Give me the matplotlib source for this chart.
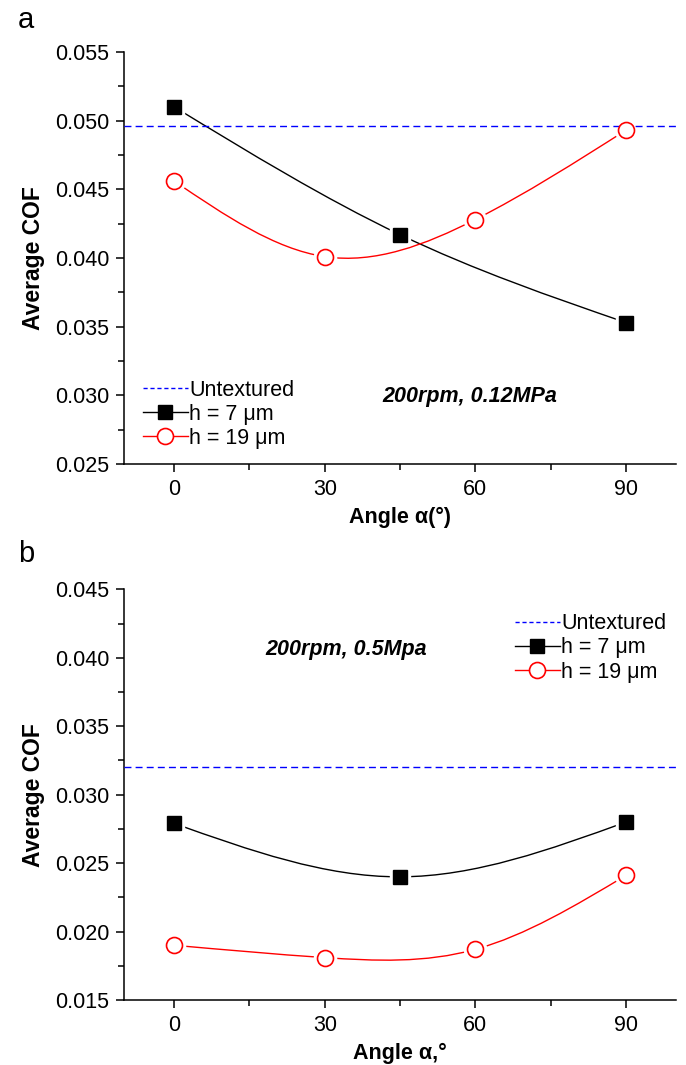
"""
Average COF vs texture angle for two texture depths, two load cases (a, b).
"""

import numpy as np
import matplotlib
matplotlib.use('Agg')
import matplotlib.pyplot as plt
from matplotlib.path import Path
from matplotlib.patches import PathPatch
from matplotlib.lines import Line2D
from matplotlib.ticker import MultipleLocator

plt.rcParams['font.family'] = ['Liberation Sans', 'DejaVu Sans']

# Panel a: 200rpm, 0.12MPa
a_untextured = 0.0496
a_angle_h7 = [0, 45, 90]
a_cof_h7 = [0.0510, 0.0417, 0.0353]
a_angle_h19 = [0, 30, 60, 90]
a_cof_h19 = [0.0456, 0.0401, 0.0428, 0.0493]

# Panel b: 200rpm, 0.5Mpa
b_untextured = 0.0320
b_angle_h7 = [0, 45, 90]
b_cof_h7 = [0.0279, 0.0240, 0.0280]
b_angle_h19 = [0, 30, 60, 90]
b_cof_h19 = [0.0190, 0.0181, 0.0187, 0.0241]

RED = '#ff0000'
BLUE = '#0000ff'
TICK_FS = 15.5
YLABEL_FS = 16.5
XLABEL_FS = 15.5
LEGEND_FS = 15.5


def spline_path(x, y):
    """Natural cubic spline through the points, drawn as Bezier segments."""
    x = np.asarray(x, float)
    y = np.asarray(y, float)
    n = len(x)
    h = np.diff(x)
    d = np.diff(y) / h
    A = np.zeros((n, n))
    r = np.zeros(n)
    A[0, 0], A[0, 1], r[0] = 2, 1, 3 * d[0]
    A[-1, -2], A[-1, -1], r[-1] = 1, 2, 3 * d[-1]
    for i in range(1, n - 1):
        A[i, i - 1] = h[i]
        A[i, i] = 2 * (h[i - 1] + h[i])
        A[i, i + 1] = h[i - 1]
        r[i] = 3 * (h[i] * d[i - 1] + h[i - 1] * d[i])
    m = np.linalg.solve(A, r)
    verts = [(x[0], y[0])]
    codes = [Path.MOVETO]
    for i in range(n - 1):
        verts += [(x[i] + h[i] / 3, y[i] + m[i] * h[i] / 3),
                  (x[i + 1] - h[i] / 3, y[i + 1] - m[i + 1] * h[i] / 3),
                  (x[i + 1], y[i + 1])]
        codes += [Path.CURVE4] * 3
    return Path(verts, codes)


def draw_panel(ax, untextured, ax7, c7, ax19, c19, ylim, note, note_xy,
               xlabel, legend_anchor):
    # Smooth connecting curves
    ax.add_patch(PathPatch(spline_path(ax7, c7), fill=False, edgecolor='black',
                           linewidth=1.0, zorder=2))
    ax.add_patch(PathPatch(spline_path(ax19, c19), fill=False, edgecolor=RED,
                           linewidth=1.0, zorder=2))

    # White halos give the small gaps between curve and marker
    ax.plot(ax7, c7, linestyle='none', marker='s', markersize=15,
            markerfacecolor='white', markeredgecolor='white', zorder=3)
    ax.plot(ax19, c19, linestyle='none', marker='o', markersize=16,
            markerfacecolor='white', markeredgecolor='white', zorder=3)

    ax.axhline(untextured, color=BLUE, linewidth=1.0,
               linestyle=(0, (5, 3)), zorder=3.5)

    ax.plot(ax7, c7, linestyle='none', marker='s', markersize=10,
            color='black', zorder=4)
    ax.plot(ax19, c19, linestyle='none', marker='o', markersize=11.5,
            markerfacecolor='white', markeredgecolor=RED,
            markeredgewidth=1.2, zorder=4)

    ax.set_xlim(-10, 100)
    ax.set_ylim(*ylim)
    ax.set_xticks([0, 30, 60, 90])
    ax.xaxis.set_minor_locator(MultipleLocator(15))
    ax.yaxis.set_major_locator(MultipleLocator(0.005))
    ax.yaxis.set_minor_locator(MultipleLocator(0.0025))
    ax.yaxis.set_major_formatter(plt.FormatStrFormatter('%.3f'))

    for side in ['top', 'right']:
        ax.spines[side].set_visible(False)
    for side in ['left', 'bottom']:
        ax.spines[side].set_linewidth(1.1)
    ax.tick_params(which='major', direction='out', length=5.8, width=1.1,
                   labelsize=TICK_FS, pad=5)
    ax.tick_params(which='minor', direction='out', length=4, width=1.1)

    ax.set_ylabel('Average COF', fontsize=YLABEL_FS, fontweight='bold', labelpad=7)
    ax.set_xlabel(xlabel, fontsize=XLABEL_FS, fontweight='bold', labelpad=5)

    ax.text(note_xy[0], note_xy[1], note, transform=ax.transAxes,
            fontsize=15.5, fontweight='bold', fontstyle='italic',
            ha='center', va='center')

    handles = [
        Line2D([], [], color=BLUE, linewidth=1.0, linestyle=(0, (3, 2))),
        Line2D([], [], color='black', linewidth=1.0, marker='s', markersize=10),
        Line2D([], [], color=RED, linewidth=1.0, marker='o', markersize=11.5,
               markerfacecolor='white', markeredgecolor=RED, markeredgewidth=1.2),
    ]
    labels = ['Untextured', 'h = 7 \u03bcm', 'h = 19 \u03bcm']
    ax.legend(handles, labels, loc='upper left', bbox_to_anchor=legend_anchor,
              frameon=False, fontsize=LEGEND_FS, handlelength=2.1,
              handletextpad=0.05, labelspacing=0.15, borderpad=0,
              borderaxespad=0)


fig = plt.figure(figsize=(6.86, 10.65), dpi=100)
ax_a = fig.add_axes([0.1808, 0.5643, 0.8047, 0.3869])
ax_b = fig.add_axes([0.1808, 0.0610, 0.8047, 0.3856])

draw_panel(ax_a, a_untextured, a_angle_h7, a_cof_h7, a_angle_h19, a_cof_h19,
           (0.025, 0.055), '200rpm, 0.12MPa', (0.627, 0.163),
           'Angle \u03b1(\u00b0)', (0.034, 0.205))
draw_panel(ax_b, b_untextured, b_angle_h7, b_cof_h7, b_angle_h19, b_cof_h19,
           (0.015, 0.045), '200rpm, 0.5Mpa', (0.403, 0.854),
           'Angle \u03b1,\u00b0', (0.708, 0.942))

fig.text(0.0265, 0.981, 'a', fontsize=21, ha='left', va='center')
fig.text(0.0265, 0.480, 'b', fontsize=21, ha='left', va='center')

fig.savefig('out.png', dpi=100)
plt.close(fig)
